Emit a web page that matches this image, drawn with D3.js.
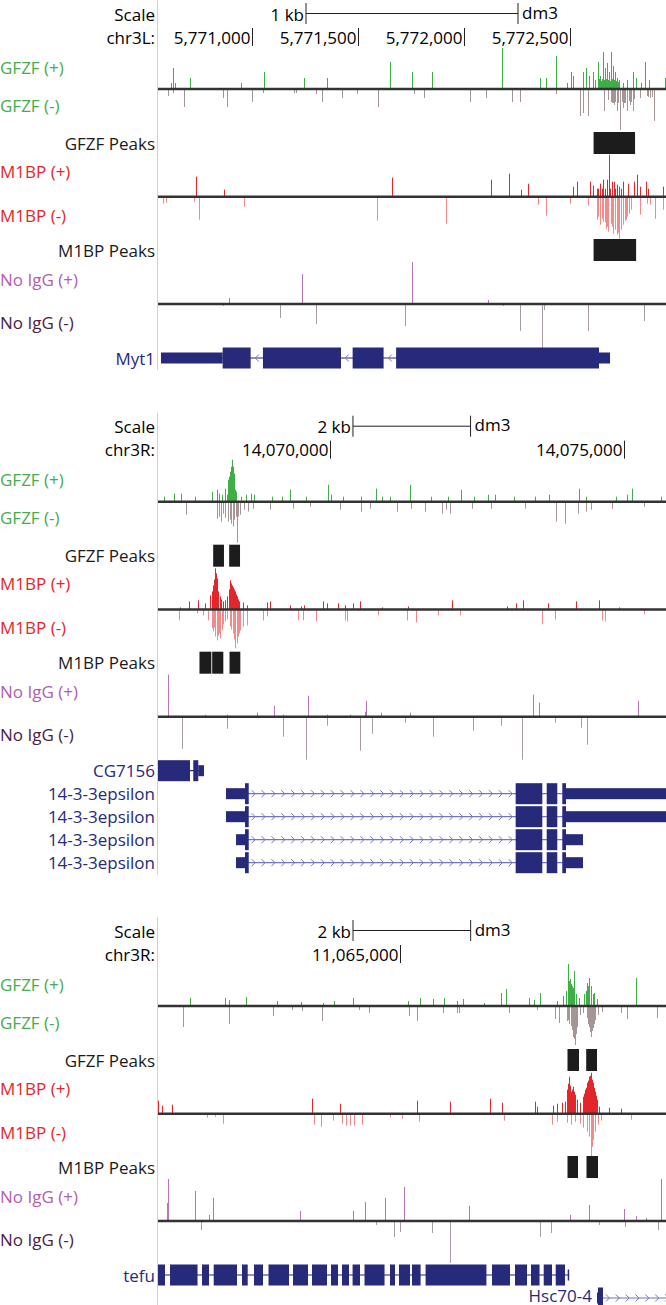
<!DOCTYPE html>
<html lang="en">
<head>
<meta charset="utf-8">
<title>GFZF / M1BP browser tracks</title>
<script src="https://cdn.jsdelivr.net/npm/d3@7/dist/d3.min.js"></script>
<style>
  body { margin: 0; background: #fff; }
  svg text { font-family: "Open Sans", sans-serif; font-size: 17px; }
</style>
</head>
<body>
<script>
// ---- browser windows (dm3, bp) ----
var win1 = [5770557, 5772953], win2 = [14067081, 14075721], win3 = [11060886, 11069522];
var chroms = ["chr3L", "chr3R", "chr3R"];
var ticks1 = [5771000, 5771500, 5772000, 5772500];
var ticks2 = [14070000, 14075000];
var ticks3 = [11065000];
// scale bars: [start, length, label]
var bar1 = [5771255, 1000, "1 kb"], bar2 = [14070397, 2000, "2 kb"], bar3 = [11064201, 2000, "2 kb"];

// ---- signal: [offset from window start (bp), reads] ----
var p1GfzfPlus = [[61,6],[72,21],[80,6],[151,11],[390,6],[500,17],[689,11],[797,11],[1094,27],[1198,17],[1292,17],[1623,41],[1802,11],[1830,11],[1877,33],[1928,6],[1947,17],[1958,13],[2005,17],[2019,21],[2033,13],[2052,17],[2062,9],[2074,27],[2080,10],[2085,13],[2090,8],[2094,10],[2099,37],[2104,9],[2109,21],[2113,10],[2118,26],[2123,9],[2127,17],[2132,8],[2137,37],[2141,10],[2146,23],[2151,9],[2156,17],[2160,8],[2165,11],[2170,7],[2175,9],[2192,6],[2212,9],[2241,17],[2255,11],[2277,6],[2297,27],[2316,9],[2392,11]];
var p1GfzfMinus = [[49,7],[69,4],[121,18],[308,9],[325,18],[445,13],[495,4],[642,4],[651,4],[744,5],[775,13],[869,9],[937,5],[1036,18],[1209,5],[1255,9],[1472,13],[1546,9],[1671,13],[1708,13],[1876,5],[1991,27],[2006,24],[2030,27],[2104,22],[2123,11],[2135,13],[2140,14],[2145,14],[2151,16],[2156,13],[2164,22],[2171,14],[2179,41],[2187,13],[2192,19],[2198,14],[2203,14],[2214,22],[2220,12],[2226,16],[2233,13],[2239,22],[2245,10],[2274,9],[2305,7],[2313,8],[2321,9],[2329,8],[2340,32]];
var p1M1bpPlus = [[178,20],[311,7],[1102,19],[1569,17],[1657,23],[1714,7],[1747,13],[1959,10],[1975,15],[2038,15],[2053,11],[2069,8],[2077,8],[2085,13],[2093,8],[2100,17],[2109,8],[2119,17],[2127,42],[2132,8],[2140,15],[2151,15],[2156,8],[2164,12],[2176,10],[2183,8],[2192,15],[2218,13],[2245,15],[2261,22],[2274,10],[2300,15],[2313,8],[2384,10]];
var p1M1bpMinus = [[22,7],[38,6],[170,5],[195,23],[404,10],[1032,24],[1357,27],[1794,8],[1830,19],[1943,7],[2027,9],[2069,23],[2077,20],[2085,28],[2093,22],[2100,25],[2109,26],[2113,32],[2119,30],[2124,35],[2135,27],[2141,30],[2148,37],[2156,33],[2164,38],[2170,36],[2176,42],[2184,33],[2195,28],[2202,24],[2208,23],[2214,20],[2220,17],[2230,13],[2274,18],[2305,7],[2321,8],[2344,22],[2384,13]];
var p1IggPlus = [[336,6],[678,30],[1198,42],[1558,4]];
var p1IggMinus = [[305,2],[577,14],[745,20],[1165,22],[1627,2],[1708,27],[1810,44],[1822,6],[2027,27],[2292,17]];
var p1GfzfPeaks = [[2052,2250]];
var p1M1bpPeaks = [[2052,2255]];

var p2GfzfPlus = [[94,5],[272,8],[383,8],[622,5],[925,10],[998,12],[1034,8],[1085,7],[1139,13],[1172,7],[1185,18],[1199,22],[1211,25],[1225,30],[1242,35],[1259,42],[1279,35],[1289,28],[1301,15],[1315,12],[1330,10],[1417,5],[1503,7],[1575,8],[1633,7],[1937,5],[2117,5],[2247,12],[2515,5],[2891,17],[2949,7],[3146,5],[3452,5],[3708,13],[3815,5],[3946,5],[4286,17],[4646,5],[4935,5],[5151,12],[5369,5],[5621,7],[5730,7],[6054,5],[6417,5],[6646,7],[7153,13],[7282,5],[7789,5],[7969,7],[8063,13],[8548,5]];
var p2GfzfMinus = [[469,13],[998,17],[1034,15],[1070,20],[1114,12],[1148,16],[1190,20],[1225,18],[1250,22],[1276,25],[1301,18],[1327,15],[1352,41],[1359,15],[1395,13],[1468,8],[1539,10],[1612,7],[1908,8],[2296,7],[2585,5],[3092,8],[3452,10],[3599,7],[4068,10],[4306,7],[4537,10],[4827,12],[4898,8],[4958,12],[5332,7],[5656,7],[6235,7],[6777,20],[6922,22],[7138,12],[7282,10],[7356,8],[7716,7],[8259,5]];
var p2M1bpPlus = [[374,2],[532,8],[685,9],[799,6],[884,14],[913,18],[940,24],[958,30],[975,41],[986,36],[998,31],[1009,25],[1026,18],[1054,13],[1077,10],[1111,8],[1145,9],[1179,13],[1202,20],[1225,29],[1242,26],[1253,24],[1270,22],[1281,19],[1298,20],[1315,18],[1332,15],[1349,13],[1366,10],[1383,8],[1451,7],[1509,4],[1849,7],[1905,8],[2245,4],[2427,3],[2483,4],[2811,8],[2869,6],[3056,6],[3180,4],[3311,6],[3435,8],[3805,2],[4257,3],[4995,9],[5930,3],[6088,6],[6213,9],[6638,6],[7109,8],[7505,9],[7845,2]];
var p2M1bpMinus = [[362,11],[658,4],[770,6],[855,11],[913,19],[940,22],[952,18],[969,27],[998,31],[1009,28],[1026,26],[1037,24],[1054,29],[1083,21],[1105,15],[1139,12],[1173,10],[1225,17],[1250,20],[1270,24],[1293,30],[1310,39],[1338,34],[1352,30],[1366,27],[1378,24],[1395,21],[1440,17],[1509,16],[1791,11],[1849,7],[2386,11],[2471,11],[2687,12],[3180,11],[3209,12],[3737,6],[4240,11],[4388,13],[4767,6],[5136,6],[6526,15],[6752,10],[7546,11],[7602,12],[8265,5]];
var p2IggPlus = [[175,42],[799,2],[1179,2],[1679,4],[1973,11],[2131,2],[2551,21],[2869,2],[3265,2],[3520,5],[3543,16],[3787,4],[4286,4],[6383,22],[6475,14],[8158,16]];
var p2IggMinus = [[403,32],[1179,12],[2131,20],[2512,43],[2869,9],[3441,34],[3634,17],[4201,6],[4682,20],[5362,14],[5828,9],[6186,43],[6752,6],[7189,11],[7291,28]];
var p2GfzfPeaks = [[930,1122],[1202,1395]];
var p2M1bpPeaks = [[697,907],[913,1111],[1208,1400]];

var p3GfzfPlus = [[542,8],[1142,8],[1214,6],[1503,9],[2023,5],[2428,4],[2803,3],[2990,5],[3322,8],[4247,5],[4449,8],[4680,7],[4860,8],[5078,5],[5185,7],[5547,3],[5836,13],[5923,17],[6305,8],[6399,6],[6486,13],[6775,5],[6883,10],[6941,15],[6962,20],[6977,42],[6990,25],[7006,27],[7021,22],[7035,20],[7048,18],[7064,35],[7077,14],[7099,12],[7150,8],[7244,12],[7279,15],[7295,23],[7317,20],[7330,28],[7353,18],[7366,20],[7388,12],[7410,13],[7461,7],[8124,28]];
var p3GfzfMinus = [[420,21],[1207,18],[1960,10],[2273,4],[2443,5],[2793,15],[3422,4],[3582,7],[4272,10],[4398,15],[4850,7],[5078,7],[5121,7],[5972,7],[6438,4],[6749,13],[6822,17],[6958,15],[6975,14],[6992,18],[7013,20],[7033,24],[7047,26],[7060,31],[7076,33],[7089,39],[7106,28],[7128,21],[7174,9],[7230,7],[7298,12],[7315,18],[7332,21],[7344,26],[7356,31],[7373,25],[7390,22],[7409,18],[7429,14],[7485,9],[7543,6],[7866,7],[7968,13],[8478,12]];
var p3M1bpPlus = [[5,13],[63,8],[233,9],[2623,15],[3094,10],[4398,13],[4964,12],[5644,15],[5853,11],[6409,12],[6448,7],[6720,8],[6788,10],[6863,11],[6919,12],[6958,24],[6975,30],[6992,37],[7009,28],[7026,22],[7043,24],[7060,27],[7077,22],[7094,19],[7128,14],[7174,11],[7220,17],[7242,20],[7259,24],[7276,26],[7298,31],[7315,33],[7332,37],[7344,38],[7356,41],[7373,34],[7390,31],[7407,26],[7424,22],[7441,18],[7458,14],[7502,7],[7672,6],[7866,5]];
var p3M1bpMinus = [[828,4],[969,3],[1110,10],[2657,11],[2771,13],[2980,7],[3123,10],[3196,12],[3264,12],[3332,12],[3468,11],[3944,4],[4143,5],[4442,8],[5882,7],[6693,11],[6778,8],[6948,9],[7016,11],[7089,8],[7174,10],[7230,14],[7288,18],[7332,23],[7356,43],[7378,33],[7400,26],[7434,18],[7485,11],[7526,7],[8036,6]];
var p3IggPlus = [[145,18],[173,42],[629,30],[860,6],[932,23],[2419,10],[3308,10],[3524,19],[3851,23],[4175,34],[5280,15],[7006,6],[7330,16],[7915,12],[8133,5],[8291,3],[8558,42]];
var p3IggMinus = [[723,9],[3706,4],[4009,16],[4117,11],[4658,12],[4969,42],[6501,16],[6674,12],[7497,4],[7944,6],[8493,9]];
var p3GfzfPeaks = [[6953,7157],[7271,7463]];
var p3M1bpPeaks = [[6953,7140],[7276,7480]];

// ---- gene models (offsets from window start) ----
var genes1 = [
  {name: "Myt1", strand: "-", row: 0, exons: [[14,437],[495,863],[918,1064],[1123,2132]], thick: [305,2080]}
];
var genes2 = [
  {name: "CG7156", strand: "", row: 0, exons: [[-400,544],[600,782]], thick: [-400,685]},
  {name: "14-3-3epsilon", strand: "+", row: 1, exons: [[1156,1543],[6083,6536],[6611,6791],[6876,9300]], thick: [1480,6939]},
  {name: "14-3-3epsilon", strand: "+", row: 2, exons: [[1156,1543],[6083,6536],[6611,6791],[6876,9300]], thick: [1480,6939]},
  {name: "14-3-3epsilon", strand: "+", row: 3, exons: [[1327,1543],[6083,6536],[6611,6791],[6876,7228]], thick: [1480,6939]},
  {name: "14-3-3epsilon", strand: "+", row: 4, exons: [[1327,1543],[6083,6536],[6611,6791],[6876,7228]], thick: [1480,6939]}
];
var genes3 = [
  {name: "tefu", strand: "-", row: 0, exons: [[-300,119],[204,672],[748,867],[947,1343],[1428,1525],[1632,1785],[1879,2227],[2295,2550],[2618,2873],[2941,3060],[3128,3247],[3308,3434],[3511,3851],[3944,4029],[4097,4284],[4318,4464],[4549,5583],[5678,5984],[6069,6273],[6341,6486],[6557,6698],[6761,6919],[6965,6990]], thick: [-300,6919]},
  {name: "Hsc70-4", strand: "+", row: 1, inside: true, exons: [[7463,7565],[9400,9600]], thick: [7480,9600]}
];

var trackLabels = [
  ["GFZF (+)", 67, "#45ad4b", "start"],
  ["GFZF (-)", 105, "#45ad4b", "start"],
  ["GFZF Peaks", 143, "#1a1a1a", "end"],
  ["M1BP (+)", 171, "#e5262b", "start"],
  ["M1BP (-)", 215, "#e5262b", "start"],
  ["M1BP Peaks", 250, "#1a1a1a", "end"],
  ["No IgG (+)", 279, "#b25db1", "start"],
  ["No IgG (-)", 322, "#4b2145", "start"]
];

var panels = [
  {top: 0, guide: 370, win: win1, chrom: chroms[0], ticks: ticks1, bar: bar1, genes: genes1,
   gp: p1GfzfPlus, gm: p1GfzfMinus, mp: p1M1bpPlus, mm: p1M1bpMinus, ip: p1IggPlus, im: p1IggMinus, gk: p1GfzfPeaks, mk: p1M1bpPeaks},
  {top: 412.7, guide: 462, win: win2, chrom: chroms[1], ticks: ticks2, bar: bar2, genes: genes2,
   gp: p2GfzfPlus, gm: p2GfzfMinus, mp: p2M1bpPlus, mm: p2M1bpMinus, ip: p2IggPlus, im: p2IggMinus, gk: p2GfzfPeaks, mk: p2M1bpPeaks},
  {top: 917, guide: 390, win: win3, chrom: chroms[2], ticks: ticks3, bar: bar3, genes: genes3,
   gp: p3GfzfPlus, gm: p3GfzfMinus, mp: p3M1bpPlus, mm: p3M1bpMinus, ip: p3IggPlus, im: p3IggMinus, gk: p3GfzfPeaks, mk: p3M1bpPeaks}
];

var navy = "#27297a", intronArrow = "#7376bb";
var svg = d3.select("body").append("svg").attr("width", 666).attr("height", 1305);
var yv = d3.scaleLinear().domain([0, 45]).range([0, 45]);
var fmt = d3.format(",");

function signal(g, x, data, base, dir, color) {
  g.selectAll(null).data(data).enter().append("line")
    .attr("x1", function(d) { return Math.round(x(d[0])) + 0.5; })
    .attr("x2", function(d) { return Math.round(x(d[0])) + 0.5; })
    .attr("y1", base)
    .attr("y2", function(d) { return base + dir * yv(d[1]); })
    .attr("stroke", color)
    .attr("stroke-width", 1);
}

function baseline(g, base) {
  g.append("line").attr("x1", 158).attr("x2", 666).attr("y1", base).attr("y2", base)
    .attr("stroke", "#333").attr("stroke-width", 2.5);
}

function peaks(g, x, data, top) {
  g.selectAll(null).data(data).enter().append("rect")
    .attr("x", function(d) { return x(d[0]) + 0.5; })
    .attr("width", function(d) { return x(d[1]) - x(d[0]) - 0.5; })
    .attr("y", top).attr("height", 22)
    .attr("fill", "#1c1c1c");
}

function gene(g, x, ge, yc) {
  var ex = ge.exons;
  g.append("line").attr("x1", x(ex[0][0])).attr("x2", x(ex[ex.length - 1][1]))
    .attr("y1", yc).attr("y2", yc).attr("stroke", ge.strand === "+" ? intronArrow : navy).attr("stroke-width", 1.2);
  if (ge.strand) {
    for (var i = 0; i < ex.length - 1; i++) {
      var a = x(ex[i][1]), b = Math.min(x(ex[i + 1][0]), 672);
      if (b - a < 7) continue;
      var n = Math.max(1, Math.floor((b - a) / 9.7));
      for (var k = 0; k < n; k++) {
        var cx = a + (b - a) * (k + 0.5) / n;
        var s = ge.strand === "+" ? 1 : -1;
        g.append("path")
          .attr("d", "M" + (cx - 2 * s) + "," + (yc - 3.5) + "L" + (cx + 1.5 * s) + "," + yc + "L" + (cx - 2 * s) + "," + (yc + 3.5))
          .attr("fill", "none").attr("stroke", intronArrow).attr("stroke-width", 1);
      }
    }
  }
  ex.forEach(function(e) {
    var ts = Math.max(e[0], ge.thick[0]), te = Math.min(e[1], ge.thick[1]);
    if (te > ts) g.append("rect").attr("x", x(ts)).attr("width", x(te) - x(ts))
      .attr("y", yc - 10.5).attr("height", 21).attr("fill", navy);
    if (ts > e[0]) g.append("rect").attr("x", x(e[0])).attr("width", x(Math.min(e[1], ge.thick[0])) - x(e[0]))
      .attr("y", yc - 5.5).attr("height", 11).attr("fill", navy);
    if (te < e[1]) g.append("rect").attr("x", x(Math.max(e[0], ge.thick[1]))).attr("width", x(e[1]) - x(Math.max(e[0], ge.thick[1])))
      .attr("y", yc - 5.5).attr("height", 11).attr("fill", navy);
  });
}

panels.forEach(function(p, pi) {
  var g = svg.append("g").attr("transform", "translate(0," + p.top + ")");
  var x = d3.scaleLinear().domain([0, p.win[1] - p.win[0]]).range([158, 666]);

  g.append("clipPath").attr("id", "clip" + pi).append("rect")
    .attr("x", 158).attr("y", 0).attr("width", 508).attr("height", 490);

  g.append("line").attr("x1", 157.5).attr("x2", 157.5).attr("y1", 0).attr("y2", p.guide)
    .attr("stroke", "#f6c2ba").attr("stroke-width", 1);

  // scale bar
  var b0 = x(p.bar[0] - p.win[0]), b1 = x(p.bar[0] + p.bar[1] - p.win[0]);
  g.append("text").attr("x", 155).attr("y", 14).attr("text-anchor", "end").attr("dominant-baseline", "central").text("Scale");
  g.append("line").attr("x1", b0).attr("x2", b1).attr("y1", 13.5).attr("y2", 13.5).attr("stroke", "#222");
  [b0, b1].forEach(function(bx) {
    g.append("line").attr("x1", bx).attr("x2", bx).attr("y1", 3).attr("y2", 24).attr("stroke", "#222");
  });
  g.append("text").attr("x", b0 - 2).attr("y", 14).attr("text-anchor", "end").attr("dominant-baseline", "central").text(p.bar[2]);
  g.append("text").attr("x", b1 + 4).attr("y", 12).attr("dominant-baseline", "central").text("dm3");

  // position ruler
  g.append("text").attr("x", 155).attr("y", 37).attr("text-anchor", "end").attr("dominant-baseline", "central").text(p.chrom + ":");
  p.ticks.forEach(function(t) {
    var tx = Math.round(x(t - p.win[0])) + 0.5;
    g.append("line").attr("x1", tx).attr("x2", tx).attr("y1", 28).attr("y2", 46).attr("stroke", "#222");
    g.append("text").attr("x", tx - 2).attr("y", 37).attr("text-anchor", "end").attr("dominant-baseline", "central").text(fmt(t));
  });

  trackLabels.forEach(function(l) {
    g.append("text").attr("x", l[3] === "end" ? 155 : 0).attr("y", l[1])
      .attr("text-anchor", l[3]).attr("dominant-baseline", "central").attr("fill", l[2]).text(l[0]);
  });

  var d = g.append("g").attr("clip-path", "url(#clip" + pi + ")");
  signal(d, x, p.gp, 89, -1, "#3fae46");
  signal(d, x, p.gm, 89, 1, "#a59595");
  peaks(d, x, p.gk, 132);
  signal(d, x, p.mp, 196.7, -1, "#e3262b");
  signal(d, x, p.mm, 196.7, 1, "#f28a8c");
  peaks(d, x, p.mk, 239);
  signal(d, x, p.ip, 304, -1, "#b673b6");
  signal(d, x, p.im, 304, 1, "#a89ca8");
  baseline(d, 89);
  baseline(d, 196.7);
  baseline(d, 304);

  p.genes.forEach(function(ge) {
    var yc = 358 + 23 * ge.row;
    gene(d, x, ge, yc);
    var lx = ge.inside ? x(ge.exons[0][0]) - 5 : 155;
    g.append("text").attr("x", lx).attr("y", ge.inside ? yc - 3 : yc).attr("text-anchor", "end")
      .attr("dominant-baseline", "central").attr("fill", navy).text(ge.name);
  });
});
</script>
</body>
</html>
